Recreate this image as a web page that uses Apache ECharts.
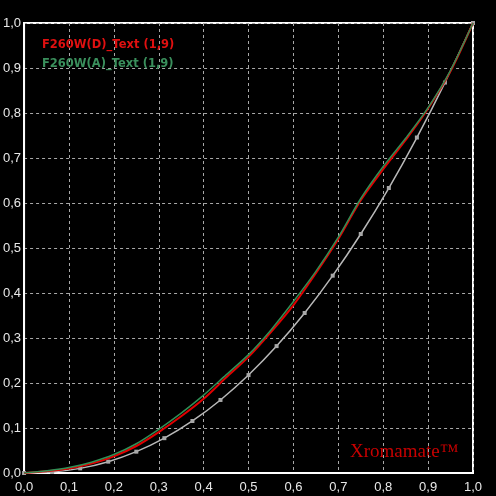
<!DOCTYPE html>
<html>
<head>
<meta charset="utf-8">
<style>html,body{margin:0;padding:0;background:#000;}#c{width:496px;height:496px;}</style>
<script src="https://cdn.jsdelivr.net/npm/echarts@6/dist/echarts.min.js"></script>
</head>
<body>
<div id="c"></div>
<script>
// Measured curve D (red), x input level vs y output level
const redX = [0, 0.05, 0.1, 0.15, 0.2, 0.25, 0.3, 0.35, 0.4, 0.45, 0.5, 0.55, 0.6, 0.65, 0.7, 0.75, 0.8, 0.85, 0.9, 0.95, 1.0];
const redY = [0, 0.004, 0.010, 0.021, 0.037, 0.060, 0.091, 0.126, 0.165, 0.212, 0.258, 0.313, 0.373, 0.444, 0.520, 0.606, 0.675, 0.740, 0.810, 0.893, 1.0];
// Measured curve A (green)
const greenX = [0, 0.05, 0.1, 0.15, 0.2, 0.25, 0.3, 0.35, 0.4, 0.45, 0.5, 0.55, 0.6, 0.65, 0.7, 0.75, 0.8, 0.85, 0.9, 0.95, 1.0];
const greenY = [0, 0.005, 0.012, 0.024, 0.041, 0.065, 0.097, 0.133, 0.173, 0.218, 0.263, 0.318, 0.381, 0.448, 0.524, 0.610, 0.681, 0.744, 0.812, 0.895, 1.0];
// Reference curve (gray) with markers
const refX = [0, 0.0625, 0.125, 0.1875, 0.25, 0.3125, 0.375, 0.4375, 0.5, 0.5625, 0.625, 0.6875, 0.75, 0.8125, 0.875, 0.9375, 1.0];
const refY = [0, 0.0022, 0.0103, 0.0252, 0.0474, 0.0774, 0.1156, 0.1623, 0.2176, 0.2820, 0.3556, 0.4385, 0.5311, 0.6333, 0.7455, 0.8676, 1.0];
const seriesNames = ['F260W(D)_Text (1,9)', 'F260W(A)_Text (1,9)'];
const watermark = 'Xromamate\u2122';

const zip = (xs, ys) => xs.map((x, i) => [x, ys[i]]);
const fmt = v => v.toFixed(1).replace('.', ',');

const chart = echarts.init(document.getElementById('c'));
const axisCommon = {
  type: 'value', min: 0, max: 1, interval: 0.1,
  axisLine: { show: true, lineStyle: { color: '#ffffff', width: 2 } },
  axisTick: { show: false },
  splitLine: { show: true, lineStyle: { color: '#a8a8a8', type: [3, 3], width: 1 } },
  axisLabel: { color: '#e8e8e8', fontFamily: 'Liberation Sans Narrow, Liberation Sans, sans-serif', fontSize: 13, formatter: fmt }
};
chart.setOption({
  backgroundColor: '#000000',
  animation: false,
  grid: { left: 23, right: 23, top: 23, bottom: 23, show: true, borderColor: '#ffffff', borderWidth: 2 },
  xAxis: Object.assign({}, axisCommon, { axisLabel: Object.assign({}, axisCommon.axisLabel, { margin: 8 }) }),
  yAxis: Object.assign({}, axisCommon, { axisLabel: Object.assign({}, axisCommon.axisLabel, { margin: 3 }) }),
  legend: {
    orient: 'vertical', left: 37, top: 38, icon: 'none', itemWidth: 0, itemGap: 6, padding: 0,
    textStyle: { fontFamily: 'DejaVu Sans', fontWeight: 'bold', fontSize: 11.5 },
    data: [
      { name: seriesNames[0], textStyle: { color: '#e01010' } },
      { name: seriesNames[1], textStyle: { color: '#3a8f5c' } }
    ],
    selectedMode: false
  },
  graphic: [{
    type: 'text', left: 350, top: 443,
    style: { text: watermark, fill: '#c80000', font: '19px "Liberation Serif", serif', shadowColor: '#ff0000', shadowBlur: 3 }
  }],
  series: [
    { name: 'ref', type: 'line', data: zip(refX, refY), symbol: 'rect', symbolSize: 4, showSymbol: true, smooth: 0.3,
      lineStyle: { color: '#b8b8b8', width: 1.5 }, itemStyle: { color: '#a8a8a8' }, z: 1 },
    { name: seriesNames[0], type: 'line', data: zip(redX, redY), symbol: 'none', smooth: 0.3,
      lineStyle: { color: '#e00000', width: 2 }, itemStyle: { color: '#e00000' }, z: 2 },
    { name: seriesNames[1], type: 'line', data: zip(greenX, greenY), symbol: 'none', smooth: 0.3,
      lineStyle: { color: '#2f8f55', width: 1.5 }, itemStyle: { color: '#2f8f55' }, z: 3 }
  ]
});
</script>
</body>
</html>
